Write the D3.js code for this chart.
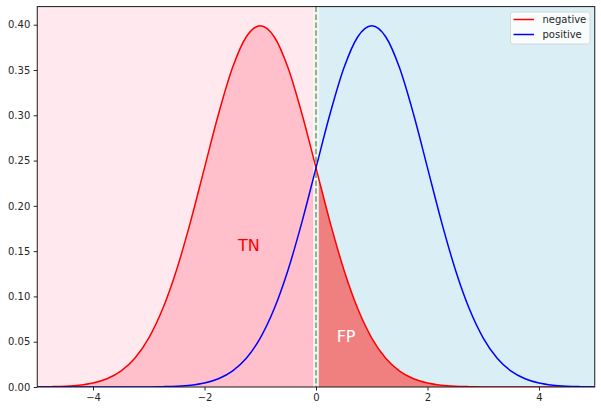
<!DOCTYPE html>
<html><head><meta charset="utf-8">
<script src="https://cdn.jsdelivr.net/npm/d3@7"></script>
<style>body{margin:0;background:#fff}svg{display:block}text{font-family:"DejaVu Sans",sans-serif}</style>
</head><body>
<script>
const xs = [-5,-4.75,-4.5,-4.25,-4,-3.75,-3.5,-3.25,-3,-2.75,-2.5,-2.25,-2,-1.75,-1.5,-1.25,-1,-0.75,-0.5,-0.25,0,0.25,0.5,0.75,1,1.25,1.5,1.75,2,2.25,2.5,2.75,3,3.25,3.5,3.75,4,4.25,4.5,4.75,5];
const negative = [0.0001,0.0004,0.0009,0.0020,0.0044,0.0091,0.0175,0.0317,0.0540,0.0863,0.1295,0.1826,0.2420,0.3011,0.3521,0.3867,0.3989,0.3867,0.3521,0.3011,0.2420,0.1826,0.1295,0.0863,0.0540,0.0317,0.0175,0.0091,0.0044,0.0020,0.0009,0.0004,0.0001,0,0,0,0,0,0,0,0];
const positive = [0,0,0,0,0,0,0,0,0.0001,0.0004,0.0009,0.0020,0.0044,0.0091,0.0175,0.0317,0.0540,0.0863,0.1295,0.1826,0.2420,0.3011,0.3521,0.3867,0.3989,0.3867,0.3521,0.3011,0.2420,0.1826,0.1295,0.0863,0.0540,0.0317,0.0175,0.0091,0.0044,0.0020,0.0009,0.0004,0.0001];
const xTicks = [-4,-2,0,2,4];
const yTicks = [0,0.05,0.10,0.15,0.20,0.25,0.30,0.35,0.40];
const threshold = 0;
const labels = [{t:"TN", x:-1.4, y:0.15, c:"red"},{t:"FP", x:0.37, y:0.05, c:"white"}];
const seriesNames = ["negative","positive"];

const W=601,H=411, L=37.25, R=594.75, T=6.6, B=387;
const svg = d3.select("body").append("svg").attr("width",W).attr("height",H);
const x = d3.scaleLinear().domain([-5,5]).range([L,R]);
const y = d3.scaleLinear().domain([0,0.42]).range([B,T]);
const gap = 0.05;

// backgrounds
svg.append("rect").attr("x",x(-5)).attr("y",T).attr("width",x(threshold-gap)-x(-5)).attr("height",B-T).attr("fill","#ffe9ee");
svg.append("rect").attr("x",x(threshold+gap)).attr("y",T).attr("width",x(5)-x(threshold+gap)).attr("height",B-T).attr("fill","#daeef6");
svg.append("rect").attr("x",x(threshold-gap)).attr("y",T).attr("width",x(threshold+gap)-x(threshold-gap)).attr("height",B-T).attr("fill","#f8f2f4");

const defs = svg.append("defs");
defs.append("clipPath").attr("id","cl").append("rect").attr("x",x(-5)).attr("y",T).attr("width",x(threshold-gap)-x(-5)).attr("height",B-T);
defs.append("clipPath").attr("id","cr").append("rect").attr("x",x(threshold+gap)).attr("y",T).attr("width",x(5)-x(threshold+gap)).attr("height",B-T);
defs.append("clipPath").attr("id","plot").append("rect").attr("x",L).attr("y",T-2).attr("width",R-L).attr("height",B-T+2);

const data = xs.map((v,i)=>({x:v,n:negative[i],p:positive[i]}));
const area = d3.area().x(d=>x(d.x)).y0(y(0)).y1(d=>y(d.n)).curve(d3.curveMonotoneX);
svg.append("path").datum(data).attr("d",area).attr("fill","#ffc0cb").attr("clip-path","url(#cl)");
svg.append("path").datum(data).attr("d",area).attr("fill","#f08080").attr("clip-path","url(#cr)");

// threshold line
svg.append("line").attr("x1",x(threshold)).attr("x2",x(threshold)).attr("y1",T).attr("y2",B)
  .attr("stroke","#5faf6e").attr("stroke-width",1.6).attr("stroke-dasharray","5.5,2.4");

const lineN = d3.line().x(d=>x(d.x)).y(d=>y(d.n)).curve(d3.curveMonotoneX);
const lineP = d3.line().x(d=>x(d.x)).y(d=>y(d.p)).curve(d3.curveMonotoneX);
const g = svg.append("g").attr("clip-path","url(#plot)");
g.append("path").datum(data).attr("d",lineN).attr("fill","none").attr("stroke","red").attr("stroke-width",1.5);
g.append("path").datum(data).attr("d",lineP).attr("fill","none").attr("stroke","blue").attr("stroke-width",1.5);

// labels
labels.forEach(l=>{
  svg.append("text").attr("x",x(l.x)).attr("y",y(l.y)).attr("fill",l.c).attr("font-size",16).text(l.t);
});

// axes
const fmtX = d=> d<0 ? "\u2212"+Math.abs(d) : String(d);
const xAxis = svg.append("g").attr("transform",`translate(0,${B})`)
  .call(d3.axisBottom(x).tickValues(xTicks).tickFormat(fmtX).tickSize(3.5).tickPadding(3.5));
const yAxis = svg.append("g").attr("transform",`translate(${L},0)`)
  .call(d3.axisLeft(y).tickValues(yTicks).tickFormat(d3.format(".2f")).tickSize(3.5).tickPadding(3.5));
[xAxis,yAxis].forEach(a=>{a.selectAll("text").attr("font-size",10).attr("fill","#262626").attr("font-family","DejaVu Sans");a.select(".domain").remove();a.selectAll("line").attr("stroke","#262626");});
svg.append("rect").attr("x",L).attr("y",T).attr("width",R-L).attr("height",B-T).attr("fill","none").attr("stroke","#1a1a1a").attr("stroke-width",1);

// legend
const lg = svg.append("g");
lg.append("rect").attr("x",510.5).attr("y",12).attr("width",79.5).attr("height",32).attr("rx",2.5)
  .attr("fill","white").attr("fill-opacity",0.8).attr("stroke","#d6d6d6").attr("stroke-width",1);
const colors=["red","blue"];
seriesNames.forEach((s,i)=>{
  const yy = 19.5 + i*15;
  lg.append("line").attr("x1",513.5).attr("x2",534).attr("y1",yy).attr("y2",yy).attr("stroke",colors[i]).attr("stroke-width",1.5);
  lg.append("text").attr("x",542.5).attr("y",yy+3.6).attr("font-size",10).attr("fill","#262626").text(s);
});
</script>
</body></html>
